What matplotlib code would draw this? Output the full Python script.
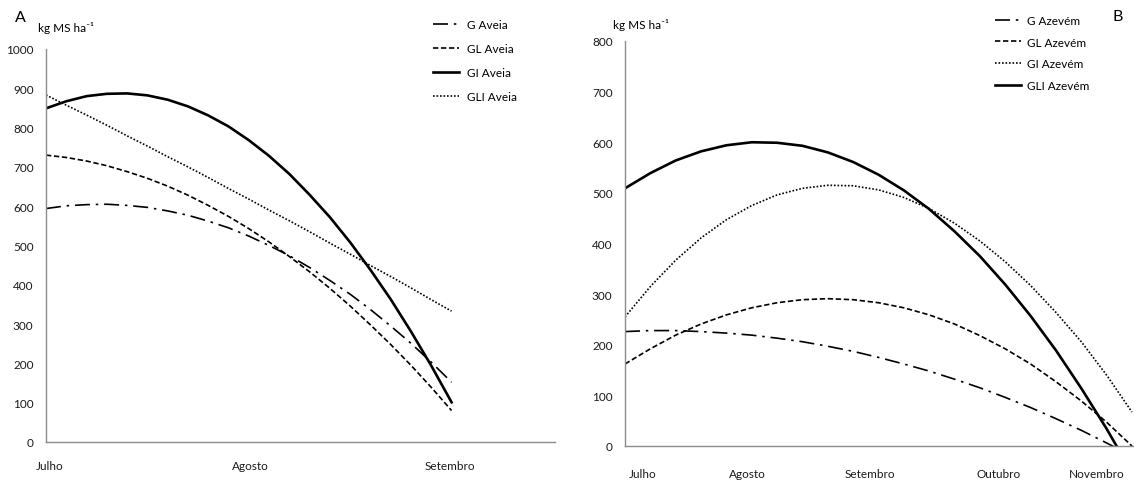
import matplotlib
matplotlib.use("Agg")
import matplotlib.pyplot as plt

plt.rcParams['font.family'] = ['Lato', 'DejaVu Sans']

# Panel A - Aveia, months from Julho (0) to Setembro (2)
mes_a = [0.0, 0.1, 0.2, 0.3, 0.4, 0.5, 0.6, 0.7, 0.8, 0.9, 1.0,
         1.1, 1.2, 1.3, 1.4, 1.5, 1.6, 1.7, 1.8, 1.9, 2.0]
g_aveia = [594, 601, 604, 605, 602, 597, 588, 577, 562, 545, 524,
           500, 474, 444, 411, 376, 337, 295, 251, 203, 152]
gl_aveia = [730, 724, 715, 703, 688, 671, 651, 628, 602, 574, 543,
            509, 472, 433, 391, 346, 298, 248, 195, 139, 80]
gi_aveia = [849, 867, 880, 886, 887, 882, 871, 854, 831, 803, 768,
            728, 682, 629, 572, 508, 438, 363, 281, 194, 101]
gli_aveia = [883, 857, 832, 806, 779, 753, 726, 700, 673, 645, 618,
             590, 563, 535, 506, 478, 449, 421, 392, 362, 333]
ticks_a = [0.02, 1.01, 1.99]
labels_a = ["Julho", "Agosto", "Setembro"]

# Panel B - Azevem, fraction of the period Julho -> Novembro
t_b = [0.0, 0.05, 0.1, 0.15, 0.2, 0.25, 0.3, 0.35, 0.4, 0.45, 0.5,
       0.55, 0.6, 0.65, 0.7, 0.75, 0.8, 0.85, 0.9, 0.95, 1.0]
g_azevem = [226, 228, 228, 226, 223, 219, 213, 206, 197, 187, 175,
            162, 148, 132, 115, 96, 76, 54, 31, 6, -20]
gl_azevem = [162, 192, 219, 241, 259, 273, 283, 289, 291, 289, 283,
             273, 259, 241, 218, 192, 162, 127, 89, 47, 0]
gi_azevem = [255, 315, 367, 411, 447, 475, 496, 509, 515, 514, 506,
             491, 469, 440, 405, 364, 317, 264, 206, 140, 67]
gli_azevem = [509, 539, 564, 582, 594, 600, 599, 593, 580, 561, 536,
              505, 468, 424, 375, 319, 257, 189, 114, 34, -53]
ticks_b = [0.034, 0.241, 0.483, 0.736, 0.931]
labels_b = ["Julho", "Agosto", "Setembro", "Outubro", "Novembro"]

W, H = 1134, 481
fig = plt.figure(figsize=(W / 100, H / 100), dpi=100)

ax_a = fig.add_axes([46 / W, 38 / H, 509 / W, 393 / H])
ax_b = fig.add_axes([625 / W, 34 / H, 509 / W, 405 / H])

dashdot = (0, (9, 3.5, 1.5, 3.5))
dashed = (0, (3.2, 1.6))
dotted = (0, (1, 1.1))

ax_a.plot(mes_a, g_aveia, color='black', lw=1.2, ls=dashdot, label='G Aveia')
ax_a.plot(mes_a, gl_aveia, color='black', lw=1.2, ls=dashed, label='GL Aveia')
ax_a.plot(mes_a, gi_aveia, color='black', lw=1.9, ls='-', label='GI Aveia')
ax_a.plot(mes_a, gli_aveia, color='black', lw=1.2, ls=dotted, label='GLI Aveia')
ax_a.set_xlim(0, 2.51)
ax_a.set_ylim(0, 1000)
ax_a.set_yticks(range(0, 1001, 100))
ax_a.set_xticks(ticks_a)
ax_a.set_xticklabels(labels_a)

ax_b.plot(t_b, g_azevem, color='black', lw=1.2, ls=dashdot, label='G Azevém')
ax_b.plot(t_b, gl_azevem, color='black', lw=1.2, ls=dashed, label='GL Azevém')
ax_b.plot(t_b, gi_azevem, color='black', lw=1.2, ls=dotted, label='GI Azevém')
ax_b.plot(t_b, gli_azevem, color='black', lw=1.9, ls='-', label='GLI Azevém')
ax_b.set_xlim(0, 1.004)
ax_b.set_ylim(0, 800)
ax_b.set_yticks(range(0, 801, 100))
ax_b.set_xticks(ticks_b)
ax_b.set_xticklabels(labels_b)

for ax in (ax_a, ax_b):
    for side in ('top', 'right'):
        ax.spines[side].set_visible(False)
    for side in ('left', 'bottom'):
        ax.spines[side].set_color('#8c8c8c')
        ax.spines[side].set_linewidth(1.0)
    ax.tick_params(axis='both', length=0, labelsize=8.5, colors='#1a1a1a')
    ax.tick_params(axis='y', pad=9)
ax_a.tick_params(axis='x', pad=13)
ax_b.tick_params(axis='x', pad=16)

ax_a.legend(loc='upper left', bbox_to_anchor=(433 / W, 1 - 20 / H),
            bbox_transform=fig.transFigure, frameon=False, fontsize=8.5,
            handlelength=2.2, handletextpad=0.7, labelspacing=1.1,
            borderpad=0, borderaxespad=0)
ax_b.legend(loc='upper left', bbox_to_anchor=(995 / W, 1 - 16 / H),
            bbox_transform=fig.transFigure, frameon=False, fontsize=8.5,
            handlelength=2.2, handletextpad=0.5, labelspacing=0.9,
            borderpad=0, borderaxespad=0)

fig.text(20 / W, 1 - 18 / H, "A", fontsize=11.5, ha='center', va='center')
fig.text(38 / W, 1 - 28 / H, "kg MS ha⁻¹", fontsize=8.5, ha='left', va='center')
fig.text(613 / W, 1 - 25 / H, "kg MS ha⁻¹", fontsize=8.5, ha='left', va='center')
fig.text(1118 / W, 1 - 17 / H, "B", fontsize=11.5, ha='center', va='center')

fig.savefig("out.png", dpi=100)
